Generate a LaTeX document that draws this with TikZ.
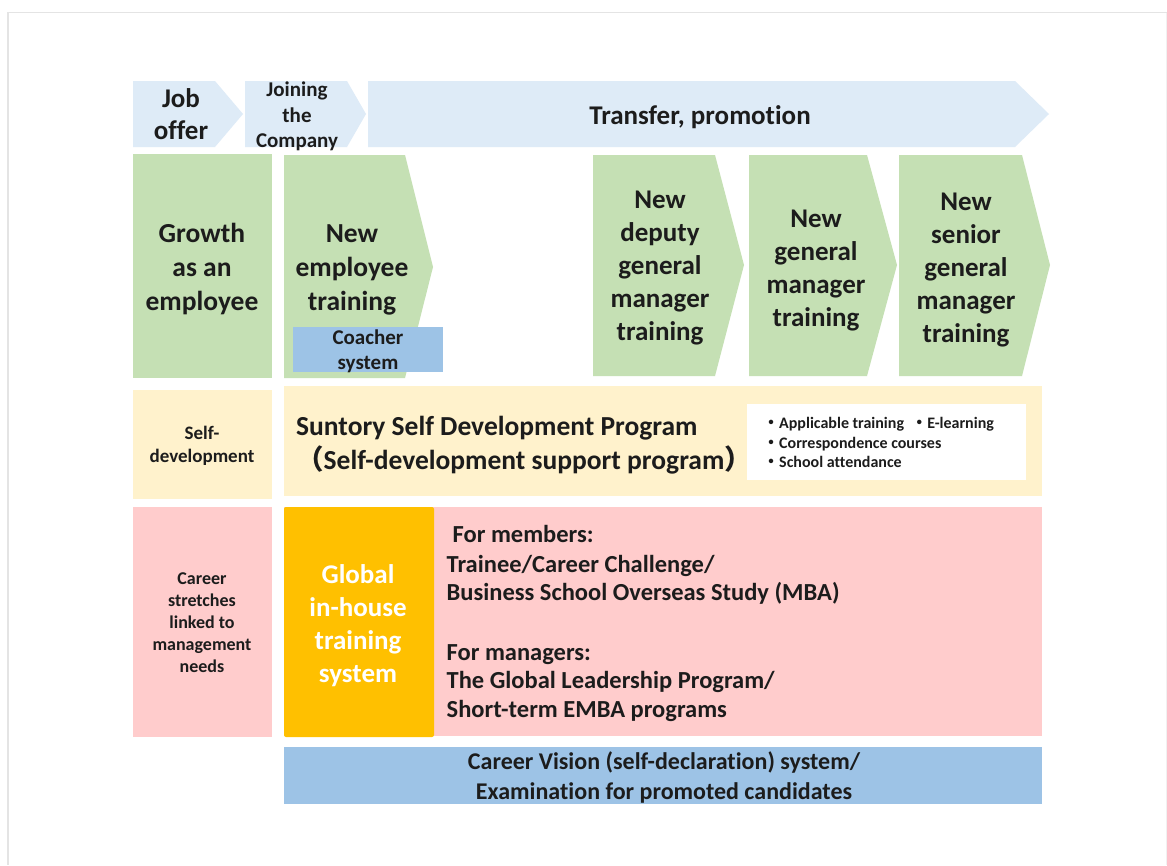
\documentclass[tikz,border=0pt]{standalone}
\usepackage{fontspec}
\setmainfont{Carlito}[Ligatures=NoCommon]
\newfontfamily\cjk{Noto Sans CJK JP}
\definecolor{lblue}{HTML}{DEEBF7}
\definecolor{lgreen}{HTML}{C5E0B4}
\definecolor{beige}{HTML}{FFF2CC}
\definecolor{lpink}{HTML}{FFCCCC}
\definecolor{gold}{HTML}{FFC000}
\definecolor{mblue}{HTML}{9DC3E6}
\definecolor{txt}{HTML}{1C1C1C}
\definecolor{framegray}{HTML}{E4E4E4}
\newcommand\fs[2]{\fontsize{#1}{#2}\selectfont\bfseries}
\begin{document}
\begin{tikzpicture}[x=1pt,y=-1pt,
  lbl/.style={align=center,text=txt,inner sep=0pt},
  lft/.style={anchor=base west,text=txt,inner sep=0pt}]
\useasboundingbox (0,0) rectangle (1167,865);
\fill[white] (0,0) rectangle (1167,865);
\draw[framegray,line width=1.6pt] (8,865) -- (8,12.5) -- (1167,12.5);
\draw[framegray!50,line width=0.8pt] (1166,12.5) -- (1166,865);
% top arrows
\fill[lblue] (133,81) -- (215,81) -- (243,114) -- (215,147) -- (133,147) -- cycle;
\fill[lblue] (245,81) -- (347,81) -- (366,114) -- (347,147) -- (245,147) -- cycle;
\fill[lblue] (368,81) -- (1015,81) -- (1049,114) -- (1015,147) -- (368,147) -- cycle;
% green row
\fill[lgreen] (133,154) rectangle (272,378);
\fill[lgreen] (284,155) -- (405,155) -- (433,267) -- (405,378) -- (284,378) -- cycle;
\fill[lgreen] (593,155) -- (715,155) -- (744,265) -- (715,376) -- (593,376) -- cycle;
\fill[lgreen] (749,155) -- (867,155) -- (897,265) -- (867,376) -- (749,376) -- cycle;
\fill[lgreen] (899,155) -- (1022,155) -- (1050,265) -- (1022,376) -- (899,376) -- cycle;
\fill[mblue] (293,327) rectangle (443,372);
% self development row
\fill[beige] (133,390) rectangle (272,499);
\fill[beige] (284,386) rectangle (1042,496);
\fill[white] (747,404) rectangle (1026,480);
% career row
\fill[lpink] (133,507) rectangle (272,737);
\fill[lpink] (284,507) rectangle (1042,736);
\fill[gold,rounded corners=2pt] (284,507) rectangle (434,737);
% bottom
\fill[mblue] (284,747) rectangle (1042,804);

% texts
\node[lbl,font=\fs{27}{32}] (job) at (181,114) {Job\\offer};
\node[lbl,font=\fs{21}{25.5}] (join) at (297,116.5) {Joining\\the\\Company};
\node[lbl,font=\fs{27}{33}] (transfer) at (700,117) {Transfer, promotion};
\node[lbl,font=\fs{27.5}{34}] (growth) at (202,269) {Growth\\as an\\employee};
\node[lbl,font=\fs{27.5}{34}] (newemp) at (352,270) {New\\employee\\training};
\node[lbl,font=\fs{21}{25}] (coach) at (368,351) {Coacher\\system};
\node[lbl,font=\fs{27}{33}] (deputy) at (660,268.5) {New\\deputy\\general\\manager\\training};
\node[lbl,font=\fs{27}{33}] (general) at (816,270.5) {New\\general\\manager\\training};
\node[lbl,font=\fs{27}{33}] (senior) at (966,270.5) {New\\senior\\general\\manager\\training};
\node[lbl,font=\fs{19}{23}] (selfdev) at (202,446) {Self-\\development};
\node[lft,font=\fs{27.5}{33}] (ssdp1) at (296,435) {Suntory Self Development Program};
\node[lft,font=\fs{27.5}{33}] (ssdp2) at (296,469) {{\cjk （}Self-development support program{\cjk ）}};
\node[lft,font=\fs{16}{19.5}] (b1) at (763,428) {{\cjk ・}Applicable training\ \ {\cjk ・}E-learning};
\node[lft,font=\fs{16}{19.5}] (b2) at (763,448) {{\cjk ・}Correspondence courses};
\node[lft,font=\fs{16}{19.5}] (b3) at (763,467) {{\cjk ・}School attendance};
\node[lbl,font=\fs{18}{22}] (career) at (202,623) {Career\\stretches\\linked to\\management\\needs};
\node[lbl,font=\fs{27}{33},text=white] (global) at (358,626) {Global\\in-house\\training\\system};
\node[lft,font=\fs{24.5}{29}] (p1) at (452.5,542) {For members:};
\node[lft,font=\fs{24.5}{29}] (p2) at (446.5,572) {Trainee/Career Challenge/};
\node[lft,font=\fs{24.5}{29}] (p3) at (446.5,600) {Business School Overseas Study (MBA)};
\node[lft,font=\fs{24.5}{29}] (p4) at (446.5,660) {For managers:};
\node[lft,font=\fs{24.5}{29}] (p5) at (446.5,688.5) {The Global Leadership Program/};
\node[lft,font=\fs{24.5}{29}] (p6) at (446.5,717) {Short-term EMBA programs};
\node[lbl,font=\fs{24}{30}] (cv) at (664,777) {Career Vision (self-declaration) system/\\Examination for promoted candidates};
\end{tikzpicture}
\end{document}
